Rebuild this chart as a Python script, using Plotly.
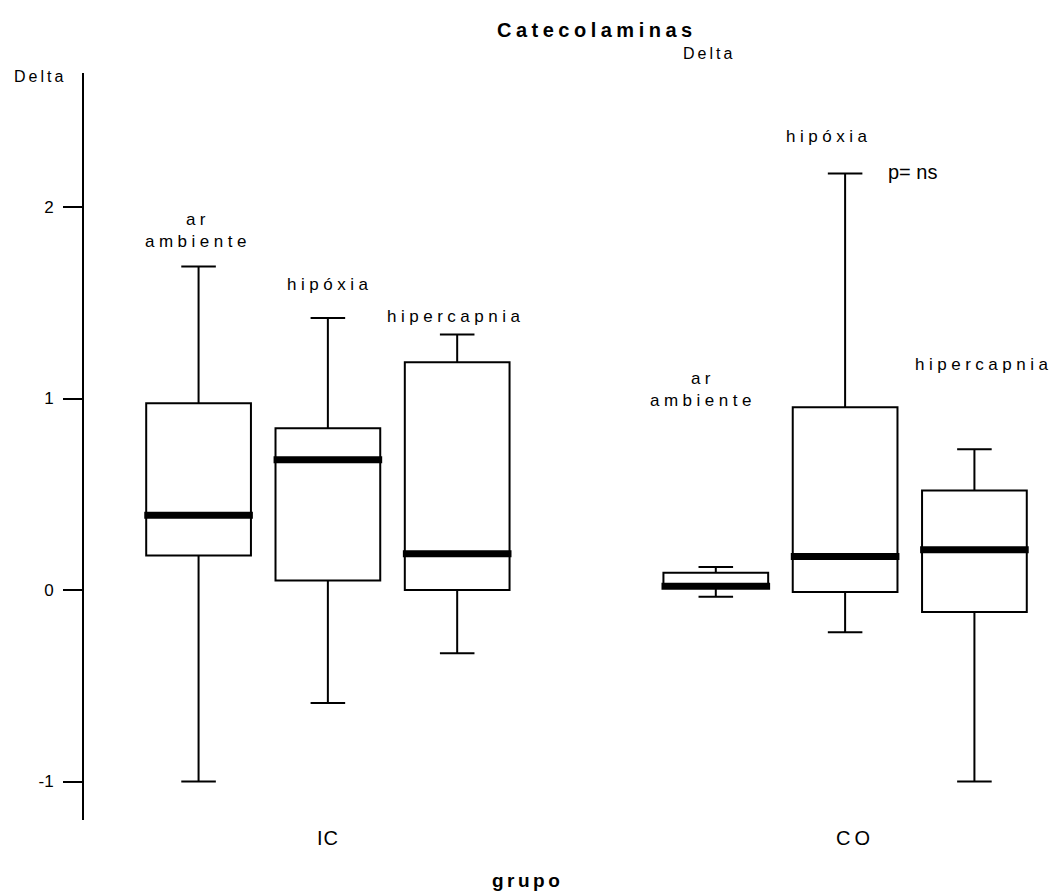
import plotly.graph_objects as go

# ---------------- data ----------------
conditions = ["ar ambiente", "hipóxia", "hipercapnia"]
groups = ["IC", "CO"]
positions = [0, 1, 2, 4, 5, 6]
group_positions = [1, 5]

lower_whisker = [-1.00, -0.59, -0.33, -0.035, -0.22, -1.00]
q1 = [0.18, 0.05, 0.00, 0.01, -0.01, -0.115]
median = [0.39, 0.68, 0.19, 0.02, 0.175, 0.21]
q3 = [0.975, 0.845, 1.19, 0.09, 0.955, 0.52]
upper_whisker = [1.69, 1.42, 1.335, 0.12, 2.175, 0.735]

y_ticks = [-1, 0, 1, 2]
y_tick_labels = ["-1", "0", "1", "2"]

# ---------------- geometry helpers ----------------
W, H = 1058, 895
PL, PR, PT, PB = 84, 1052, 73, 820
XR = [-0.886, 6.60]
YR = [-1.201, 2.700]


def xd(px):
    return XR[0] + (px - PL) / (PR - PL) * (XR[1] - XR[0])


def yd(py):
    return YR[1] - (py - PT) / (PB - PT) * (YR[1] - YR[0])


def xp(px):
    return (px - PL) / (PR - PL)


def yp(py):
    return 1 - (py - PT) / (PB - PT)


FONT = "Arial, 'Liberation Sans', sans-serif"
BOXW = 0.81


def sp(text, s):
    return f'<span style="letter-spacing:{s}px">{text}</span>'


fig = go.Figure()

fig.add_trace(go.Box(
    x=positions,
    q1=q1, median=median, q3=q3,
    lowerfence=lower_whisker, upperfence=upper_whisker,
    width=BOXW,
    whiskerwidth=0.33,
    fillcolor="white",
    line=dict(color="black", width=2),
    boxpoints=False,
    hoverinfo="skip",
    showlegend=False,
))

# thick median bars
mx, my = [], []
for p, m in zip(positions, median):
    mx += [p - BOXW / 2 - 0.015, p + BOXW / 2 + 0.015, None]
    my += [m, m, None]
fig.add_trace(go.Scatter(
    x=mx, y=my, mode="lines",
    line=dict(color="black", width=7),
    hoverinfo="skip", showlegend=False,
))

annotations = []
# condition labels (px centre x, px centre y)
cond_label_pos = [
    (198, 230, "ar<br>ambiente"),
    (329, 284, "hipóxia"),
    (455, 316, "hipercapnia"),
    (703, 389, "ar<br>ambiente"),
    (828, 136, "hipóxia"),
    (983, 364, "hipercapnia"),
]
for cx, cy, t in cond_label_pos:
    parts = t.split("<br>")
    txt = "<br>".join(sp(pp, 4.5) for pp in parts)
    annotations.append(dict(
        x=xd(cx), y=yd(cy), xref="x", yref="y", text=txt, showarrow=False,
        xanchor="center", yanchor="middle",
        font=dict(family=FONT, size=17, color="black"),
    ))

annotations.append(dict(
    x=xd(912), y=yd(172), xref="x", yref="y", text="p= ns", showarrow=False,
    xanchor="center", yanchor="middle",
    font=dict(family=FONT, size=20, color="black"),
))

# group labels
for gx, g, s in [(328, groups[0], 1), (855, groups[1], 4)]:
    annotations.append(dict(
        x=xd(gx), y=yp(838), xref="x", yref="paper", text=sp(g, s),
        showarrow=False, xanchor="center", yanchor="middle",
        font=dict(family=FONT, size=20, color="black"),
    ))

# title & subtitle
annotations.append(dict(
    x=xp(597), y=yp(30), xref="paper", yref="paper",
    text="<b>" + sp("Catecolaminas", 4.5) + "</b>", showarrow=False,
    xanchor="center", yanchor="middle",
    font=dict(family=FONT, size=20, color="black"),
))
annotations.append(dict(
    x=xp(709), y=yp(54), xref="paper", yref="paper",
    text=sp("Delta", 3), showarrow=False,
    xanchor="center", yanchor="middle",
    font=dict(family=FONT, size=16, color="black"),
))
# y axis label
annotations.append(dict(
    x=xp(40), y=yp(76), xref="paper", yref="paper",
    text=sp("Delta", 3), showarrow=False,
    xanchor="center", yanchor="middle",
    font=dict(family=FONT, size=16, color="black"),
))
# x axis title
annotations.append(dict(
    x=xp(527), y=yp(880), xref="paper", yref="paper",
    text="<b>" + sp("grupo", 3.5) + "</b>", showarrow=False,
    xanchor="center", yanchor="middle",
    font=dict(family=FONT, size=19, color="black"),
))

fig.update_layout(
    width=W, height=H,
    margin=dict(l=PL, r=W - PR, t=PT, b=H - PB, pad=0),
    paper_bgcolor="white", plot_bgcolor="white",
    annotations=annotations,
    xaxis=dict(
        range=XR, showline=False, showgrid=False, zeroline=False,
        showticklabels=False, ticks="",
    ),
    yaxis=dict(
        range=YR, showline=True, linecolor="black", linewidth=2,
        showgrid=False, zeroline=False,
        tickvals=y_ticks, ticktext=y_tick_labels,
        ticks="outside", ticklen=19, tickwidth=2, tickcolor="black",
        tickfont=dict(family=FONT, size=17, color="black"),
        ticklabelstandoff=6,
    ),
)

fig.write_html("out.html")
